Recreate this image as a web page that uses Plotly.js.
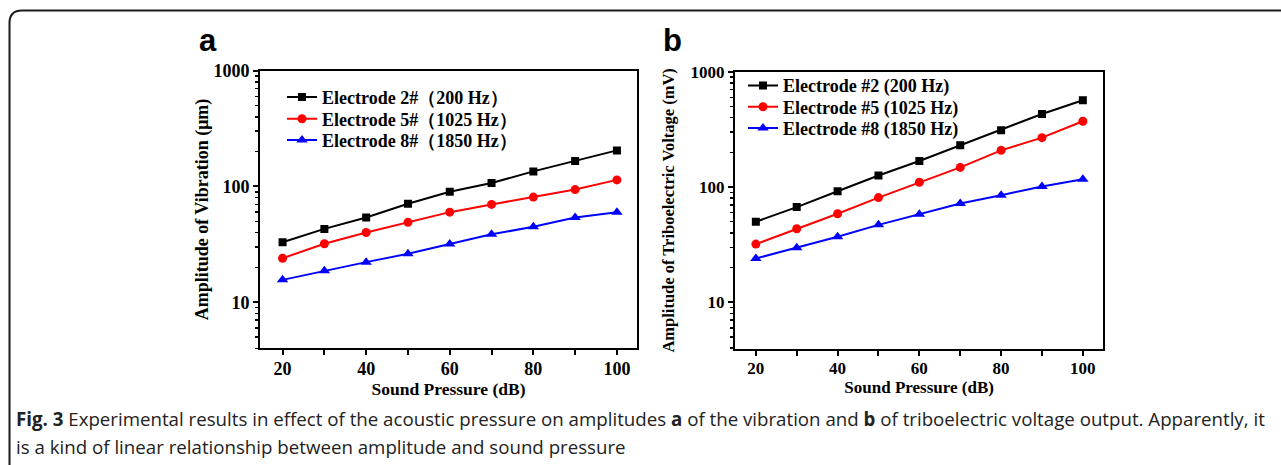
<!DOCTYPE html>
<html>
<head>
<meta charset="utf-8">
<script src="https://cdn.plot.ly/plotly-3.0.1.min.js"></script>
<style>
  html, body { margin: 0; padding: 0; background: #ffffff; }
  #chart { width: 1281px; height: 465px; }
</style>
</head>
<body>
<div id="chart"></div>
<script>
// ---------- data ----------
const soundPressure = [20, 30, 40, 50, 60, 70, 80, 90, 100];

// panel a: amplitude of vibration (µm)
const vibElectrode2 = [33, 43, 54, 71, 90, 107, 135, 166, 205];
const vibElectrode5 = [24, 32, 40, 49, 60, 70, 81, 94, 114];
const vibElectrode8 = [15.6, 18.7, 22.2, 26.2, 31.9, 38.6, 44.8, 54, 60];

// panel b: amplitude of triboelectric voltage (mV)
const voltElectrode2 = [50, 67, 92, 126, 168, 230, 310, 430, 565];
const voltElectrode5 = [32, 43.5, 58.6, 81, 110, 148, 208, 268, 372];
const voltElectrode8 = [24, 29.8, 37, 47, 58, 72, 85, 101, 117];

const namesA = ['Electrode 2#（200 Hz）', 'Electrode 5#（1025 Hz）', 'Electrode 8#（1850 Hz）'];
const namesB = ['Electrode #2 (200 Hz)', 'Electrode #5 (1025 Hz)', 'Electrode #8 (1850 Hz)'];

const xTickVals = [20, 30, 40, 50, 60, 70, 80, 90, 100];
const xTickText = ['20', '', '40', '', '60', '', '80', '', '100'];
const yTickVals = [10, 100, 1000];
const yTickText = ['10', '100', '1000'];

const captionBold = 'Fig. 3';
const captionLine1 = ' Experimental results in effect of the acoustic pressure on amplitudes <b>a</b> of the vibration and <b>b</b> of triboelectric voltage output. Apparently, it';
const captionLine2 = 'is a kind of linear relationship between amplitude and sound pressure';

// ---------- styling ----------
const W = 1281, H = 465;
const serif = 'Liberation Serif, Times New Roman, serif';
const colors = ['#000000', '#ff0000', '#0000ff'];
const symbols = ['square', 'circle', 'triangle-up'];
const msizes = [8, 9, 10];

function px(x) { return x / W; }
function py(y) { return 1 - y / H; }

const legendIdsA = ['legend', 'legend2', 'legend3'];
const legendIdsB = ['legend4', 'legend5', 'legend6'];

function makeTraces(ys, names, xa, ya, legends) {
  return ys.map((y, i) => ({
    x: soundPressure, y: y, name: names[i],
    xaxis: xa, yaxis: ya, legend: legends[i],
    type: 'scatter', mode: 'lines+markers',
    line: { color: colors[i], width: 2 },
    marker: { color: colors[i], symbol: symbols[i], size: msizes[i] }
  }));
}

const traces = [
  ...makeTraces([vibElectrode2, vibElectrode5, vibElectrode8], namesA, 'x', 'y', legendIdsA),
  ...makeTraces([voltElectrode2, voltElectrode5, voltElectrode8], namesB, 'x2', 'y2', legendIdsB)
];

function xAxis(domain, range, tickSize, titleSize) {
  return {
    domain: domain, range: range, type: 'linear',
    tickmode: 'array', tickvals: xTickVals, ticktext: xTickText,
    ticks: 'outside', ticklen: 5, tickwidth: 2, tickcolor: '#000',
    ticklabelstandoff: -2,
    showline: true, linewidth: 2, linecolor: '#000', mirror: true,
    showgrid: false, zeroline: false,
    tickfont: { family: serif, size: tickSize, color: '#000', weight: 'bold' },
    title: { text: 'Sound Pressure (dB)', standoff: 0,
             font: { family: serif, size: titleSize, color: '#000', weight: 'bold' } }
  };
}
function yAxis(domain, range, title, tickSize, titleSize, standoff, anchor) {
  return {
    domain: domain, range: range, type: 'log', anchor: anchor,
    tickmode: 'array', tickvals: yTickVals, ticktext: yTickText,
    ticks: 'outside', ticklen: 5, tickwidth: 2, tickcolor: '#000',
    minor: { ticks: 'outside', ticklen: 3, tickwidth: 1.5, tickcolor: '#000', dtick: 'D1', showgrid: false },
    showline: true, linewidth: 2, linecolor: '#000', mirror: true,
    showgrid: false, zeroline: false,
    tickfont: { family: serif, size: tickSize, color: '#000', weight: 'bold' },
    title: { text: title, standoff: standoff,
             font: { family: serif, size: titleSize, color: '#000', weight: 'bold' } }
  };
}

const legendFont = { family: serif, size: 18, color: '#000', weight: 'bold' };
function legendAt(x, y) {
  return { x: px(x), y: py(y), xanchor: 'left', yanchor: 'middle', bgcolor: 'rgba(0,0,0,0)',
           font: legendFont, itemwidth: 30 };
}

const layout = {
  width: W, height: H,
  margin: { l: 0, r: 0, t: 0, b: 0 },
  paper_bgcolor: '#ffffff', plot_bgcolor: '#ffffff',
  showlegend: true,
  xaxis: Object.assign(xAxis([px(260), px(637)], [14.6, 104.8], 18, 17.5), { anchor: 'y' }),
  yaxis: yAxis([py(348.3), py(70.7)], [Math.log10(4.0), 3], 'Amplitude of Vibration (μm)', 18, 18, 0, 'x'),
  xaxis2: Object.assign(xAxis([px(735), px(1103.3)], [14.9, 105], 17, 17), { anchor: 'y2' }),
  yaxis2: yAxis([py(349), py(71.7)], [Math.log10(3.94), 3], 'Amplitude of Triboelectric Voltage (mV)', 17, 16.5, 12, 'x2'),
  legend: legendAt(282, 97.3),
  legend2: legendAt(282, 119),
  legend3: legendAt(282, 140.3),
  legend4: legendAt(743, 85.7),
  legend5: legendAt(743, 107),
  legend6: legendAt(743, 128.3),
  annotations: [
    { text: '<b>a</b>', xref: 'paper', yref: 'paper', x: px(197), y: py(41), xanchor: 'left', yanchor: 'middle',
      showarrow: false, font: { family: 'Liberation Sans, Arial, sans-serif', size: 31, color: '#000' } },
    { text: '<b>b</b>', xref: 'paper', yref: 'paper', x: px(661), y: py(41), xanchor: 'left', yanchor: 'middle',
      showarrow: false, font: { family: 'Liberation Sans, Arial, sans-serif', size: 31, color: '#000' } },
    { text: '<b>' + captionBold + '</b>' + captionLine1,
      xref: 'paper', yref: 'paper', x: px(14), y: py(418), xanchor: 'left', yanchor: 'middle', align: 'left',
      showarrow: false, font: { family: 'Open Sans, sans-serif', size: 18.7, color: '#222' } },
    { text: captionLine2,
      xref: 'paper', yref: 'paper', x: px(14), y: py(446), xanchor: 'left', yanchor: 'middle', align: 'left',
      showarrow: false, font: { family: 'Open Sans, sans-serif', size: 18.7, color: '#222' } }
  ],
  shapes: [
    { type: 'path', xref: 'paper', yref: 'paper',
      path: `M ${px(1300)},${py(10.5)} L ${px(22)},${py(10.5)} Q ${px(9.5)},${py(10.5)} ${px(9.5)},${py(23)} L ${px(9.5)},${py(480)}`,
      line: { color: '#1a1a1a', width: 2 } }
  ]
};

Plotly.newPlot('chart', traces, layout, { staticPlot: true, displayModeBar: false });
</script>
</body>
</html>
